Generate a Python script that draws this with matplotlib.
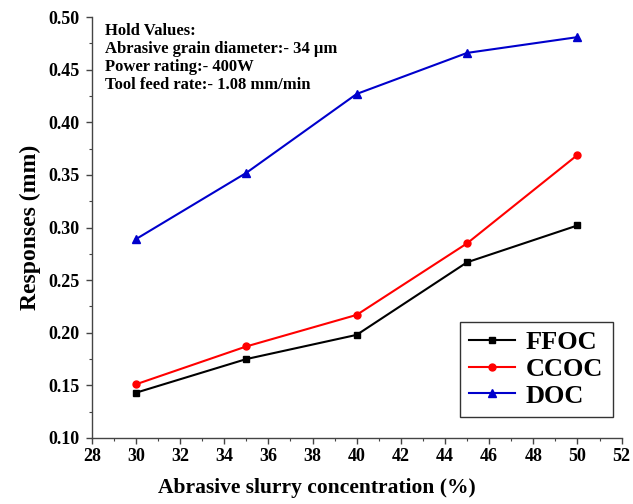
import matplotlib
matplotlib.use('Agg')
import matplotlib.pyplot as plt
from matplotlib.ticker import MultipleLocator

conc = [30, 35, 40, 45, 50]
ffoc = [0.143, 0.175, 0.198, 0.267, 0.302]
ccoc = [0.151, 0.187, 0.217, 0.285, 0.369]
doc = [0.289, 0.352, 0.427, 0.466, 0.481]

hold_text = ("Hold Values:\n"
             "Abrasive grain diameter:- 34 \u00b5m\n"
             "Power rating:- 400W\n"
             "Tool feed rate:- 1.08 mm/min")

plt.rcParams['font.family'] = ['Liberation Serif', 'DejaVu Serif']
plt.rcParams['font.weight'] = 'bold'

fig = plt.figure(figsize=(6.33, 5.04), dpi=100)
ax = fig.add_axes([0.145, 0.131, 0.837, 0.835])

ax.plot(conc, ffoc, color='black', marker='s', markersize=5, lw=1.5, label='FFOC')
ax.plot(conc, ccoc, color='red', marker='o', markersize=5, lw=1.5, label='CCOC')
ax.plot(conc, doc, color='#0000cc', marker='^', markersize=6, lw=1.5, label='DOC')

ax.set_xlim(28, 52)
ax.set_ylim(0.10, 0.50)
ax.xaxis.set_major_locator(MultipleLocator(2))
ax.xaxis.set_minor_locator(MultipleLocator(1))
ax.yaxis.set_major_locator(MultipleLocator(0.05))
ax.yaxis.set_minor_locator(MultipleLocator(0.025))
ax.yaxis.set_major_formatter(matplotlib.ticker.FormatStrFormatter('%.2f'))

ax.spines['top'].set_visible(False)
ax.spines['right'].set_visible(False)
for s in ['left', 'bottom']:
    ax.spines[s].set_color('#444444')
    ax.spines[s].set_linewidth(1.0)

ax.tick_params(axis='both', which='major', direction='out', length=4,
               width=1, colors='#444444', labelcolor='black', labelsize=13)
ax.tick_params(axis='y', which='major', pad=5)
ax.tick_params(axis='both', which='minor', direction='out', length=2,
               width=0.8, colors='#444444')
for lbl in ax.get_xticklabels() + ax.get_yticklabels():
    lbl.set_fontweight('bold')

ax.set_xlabel('Abrasive slurry concentration (%)', fontsize=15.5,
              fontweight='bold', labelpad=8)
ax.xaxis.set_label_coords(0.425, -0.095)
ax.set_ylabel('Responses (mm)', fontsize=17, fontweight='bold', labelpad=5)

ax.text(0.025, 0.985, hold_text, transform=ax.transAxes, va='top', ha='left',
        fontsize=12, fontweight='bold', linespacing=1.15)

leg = ax.legend(loc='lower right', bbox_to_anchor=(0.983, 0.05),
                prop={'weight': 'bold', 'size': 19}, frameon=True,
                fancybox=False, edgecolor='black', handlelength=1.75,
                handletextpad=0.4, labelspacing=0.12, borderpad=0.35,
                borderaxespad=0.0)
leg.get_frame().set_linewidth(1.0)

fig.savefig('out.png', dpi=100)
